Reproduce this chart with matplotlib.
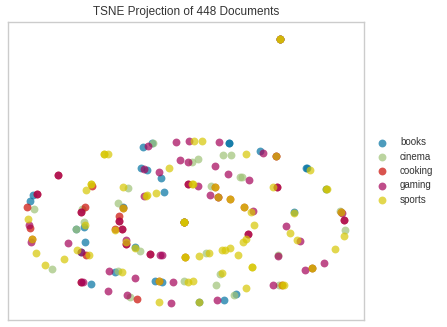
import matplotlib
matplotlib.use("Agg")
import matplotlib.pyplot as plt

plt.rcParams['font.family'] = ['Liberation Sans', 'DejaVu Sans']

classes = ["books", "cinema", "cooking", "gaming", "sports"]
colors = ["#0272a2", "#9fc377", "#ca0b03", "#a50258", "#d7c703"]

# 2-D projection coordinates (arbitrary units, y grows downward)
books_x = [430, 455, 686, 688, 98, 88, 227, 253, 250, 271, 345, 465, 487, 598, 673, 709,
           981, 920, 923, 781, 882, 403, 369, 493, 484, 422, 441, 553, 841, 243]
books_y = [441, 430, 430, 430, 586, 604, 688, 727, 682, 853, 817, 845, 847, 907, 901, 885,
           566, 505, 505, 454, 638, 743, 621, 577, 535, 505, 509, 667, 115, 757]

cinema_x = [459, 100, 227, 250, 244, 154, 390, 353, 552, 649, 703, 659, 838, 937, 1036, 1022,
            668, 694, 595, 575, 721, 727, 835, 618, 419, 354, 382, 632, 553, 841]
cinema_y = [428, 628, 688, 667, 628, 808, 893, 813, 845, 856, 888, 823, 856, 805, 690, 635,
            466, 466, 478, 485, 532, 532, 765, 760, 755, 608, 565, 558, 667, 115]

cooking_x = [173, 110, 79, 88, 95, 257, 243, 255, 274, 241, 409, 477, 937, 1033, 831, 733,
             744, 554, 451, 377, 344, 366, 357, 355, 565, 690, 1025, 847, 829, 655, 646, 369,
             553, 841]
cooking_y = [525, 583, 622, 684, 717, 765, 637, 620, 558, 847, 898, 845, 805, 660, 562, 620,
             703, 772, 764, 733, 688, 688, 664, 648, 553, 598, 637, 856, 468, 590, 562, 623,
             667, 115]

gaming_x = [443, 529, 567, 657, 110, 173, 85, 91, 202, 243, 243, 241, 249, 322, 380, 325,
            404, 520, 514, 652, 820, 916, 973, 1033, 1027, 789, 829, 563, 541, 646, 685, 747,
            831, 859, 901, 835, 761, 744, 486, 479, 451, 377, 376, 366, 357, 431, 478, 431,
            565, 593, 631, 655, 553, 841]
gaming_y = [437, 427, 424, 427, 583, 525, 677, 727, 730, 757, 637, 847, 847, 874, 888, 813,
            834, 847, 910, 901, 858, 811, 790, 660, 640, 460, 468, 487, 481, 499, 523, 541,
            562, 679, 724, 768, 635, 703, 766, 766, 764, 733, 722, 688, 664, 587, 515, 507,
            553, 557, 586, 590, 667, 115]

sports_x = [582, 606, 310, 312, 322, 82, 95, 106, 133, 190, 230, 267, 253, 257, 272, 272,
            365, 477, 477, 563, 578, 598, 739, 667, 758, 758, 847, 853, 937, 1007, 1033, 1025,
            981, 983, 931, 829, 739, 820, 882, 762, 753, 733, 739, 730, 715, 690, 667, 676,
            627, 598, 554, 554, 403, 378, 345, 369, 367, 441, 437, 469, 506, 575, 580, 646,
            655, 690, 871, 893, 553, 553, 553, 841, 841]
sports_y = [424, 424, 463, 463, 463, 657, 717, 760, 796, 778, 752, 766, 677, 571, 551, 551,
            817, 845, 907, 847, 844, 907, 867, 820, 802, 802, 856, 856, 805, 748, 709, 637,
            568, 568, 511, 468, 463, 561, 640, 676, 638, 620, 717, 727, 766, 745, 750, 750,
            760, 769, 772, 772, 745, 727, 692, 623, 562, 586, 588, 580, 505, 553, 553, 562,
            590, 598, 700, 720, 667, 667, 667, 115, 115]

xs = [books_x, cinema_x, cooking_x, gaming_x, sports_x]
ys = [books_y, cinema_y, cooking_y, gaming_y, sports_y]

fig = plt.figure(figsize=(4.47, 3.27), dpi=100)
ax = fig.add_axes([8 / 447, 1 - 320 / 327, (364 - 8) / 447, (320 - 22) / 327])

for name, col, x, y in zip(classes, colors, xs, ys):
    ax.scatter(x, y, s=32, c=col, alpha=0.7, linewidths=0, label=name)

ax.set_xlim(22, 1094)
ax.set_ylim(962, 64)
ax.set_xticks([])
ax.set_yticks([])
for sp in ax.spines.values():
    sp.set_color("#cccccc")
    sp.set_linewidth(1.0)

ax.set_title("TSNE Projection of 448 Documents", fontsize=8.5, color="#333333", pad=5)

leg = ax.legend(loc="center left", bbox_to_anchor=(1.0, 0.5), frameon=False,
                fontsize=7, handletextpad=0.8, labelspacing=0.45, markerscale=1.0)
for t in leg.get_texts():
    t.set_color("#333333")

fig.savefig("out.png", dpi=100)
